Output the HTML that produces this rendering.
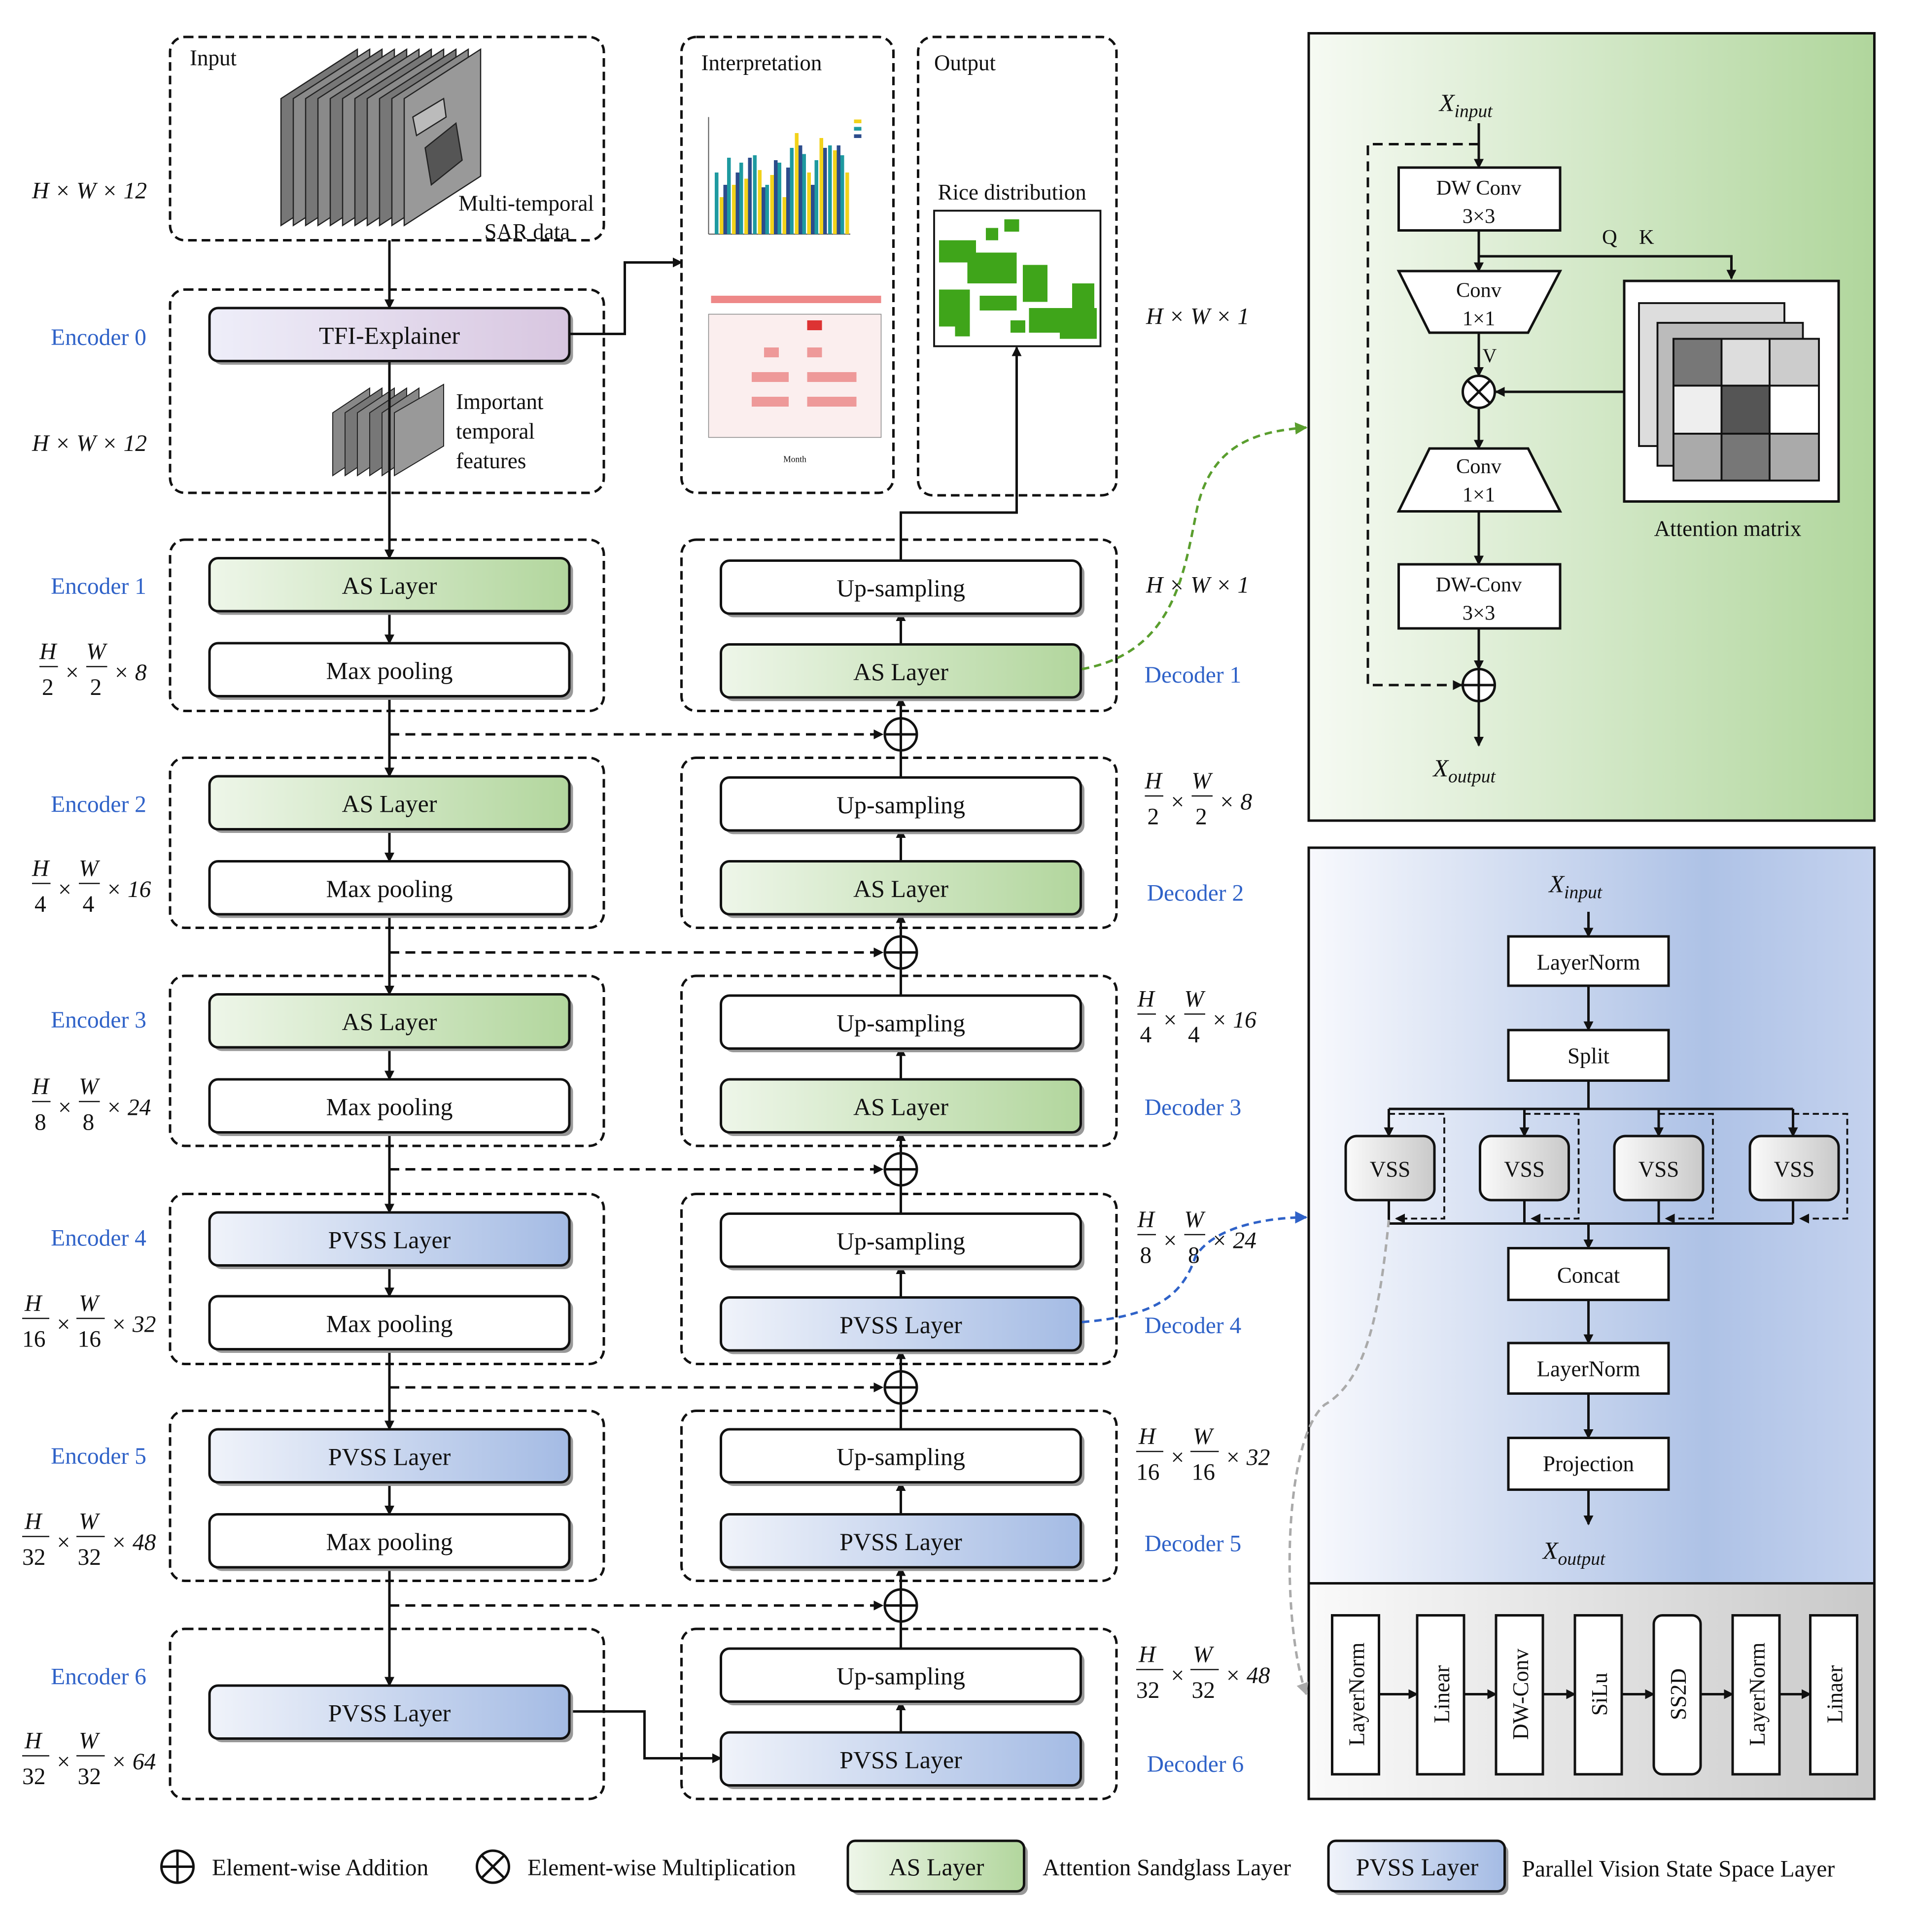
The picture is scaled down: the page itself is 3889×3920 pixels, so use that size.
<!DOCTYPE html>
<html><head><meta charset="utf-8"><style>
html,body{margin:0;padding:0;background:#fff}
svg{display:block}
text{font-family:"Liberation Serif",serif;fill:#111}
.b{fill:#2f62c8}
.it{font-style:italic}
</style></head><body>
<svg width="3889" height="3920" viewBox="0 0 1555.6 1568" xmlns="http://www.w3.org/2000/svg">
<defs>
<marker id="a" markerWidth="8" markerHeight="8" refX="7" refY="4" orient="auto" markerUnits="userSpaceOnUse"><path d="M0,0L8,4L0,8z" fill="#111"/></marker>
<marker id="ag" markerWidth="10" markerHeight="10" refX="9" refY="5" orient="auto" markerUnits="userSpaceOnUse"><path d="M0,0L10,5L0,10z" fill="#5a9e2e"/></marker>
<marker id="ab" markerWidth="10" markerHeight="10" refX="9" refY="5" orient="auto" markerUnits="userSpaceOnUse"><path d="M0,0L10,5L0,10z" fill="#2f62c8"/></marker>
<marker id="ay" markerWidth="10" markerHeight="10" refX="9" refY="5" orient="auto" markerUnits="userSpaceOnUse"><path d="M0,0L10,5L0,10z" fill="#aaa"/></marker>
<linearGradient id="gAS" x1="0" x2="1"><stop offset="0" stop-color="#eef6e9"/><stop offset="1" stop-color="#b2d69d"/></linearGradient>
<linearGradient id="gPV" x1="0" x2="1"><stop offset="0" stop-color="#f0f3fa"/><stop offset="1" stop-color="#a4bbe4"/></linearGradient>
<linearGradient id="gTF" x1="0" x2="1"><stop offset="0" stop-color="#eeeef9"/><stop offset="1" stop-color="#d8c6e0"/></linearGradient>
<linearGradient id="gG" x1="0" x2="1"><stop offset="0" stop-color="#f6faf3"/><stop offset="1" stop-color="#b0d69c"/></linearGradient>
<linearGradient id="gB" x1="0" x2="1"><stop offset="0" stop-color="#f8f9fd"/><stop offset="0.7" stop-color="#aec2e6"/><stop offset="1" stop-color="#c4d2ee"/></linearGradient>
<linearGradient id="gY" x1="0" x2="1"><stop offset="0" stop-color="#fafafa"/><stop offset="1" stop-color="#c9c9c9"/></linearGradient>
</defs>

<!-- dashed group boxes -->
<g fill="none" stroke="#111" stroke-width="2" stroke-dasharray="7,4">
<rect x="138" y="30" width="352" height="165" rx="12"/>
<rect x="138" y="235" width="352" height="165" rx="12"/>
<rect x="553" y="30" width="172" height="370" rx="12"/>
<rect x="745" y="30" width="161" height="372" rx="12"/>
<rect x="138" y="438" width="352" height="139" rx="12"/>
<rect x="138" y="615" width="352" height="138" rx="12"/>
<rect x="138" y="792" width="352" height="138" rx="12"/>
<rect x="138" y="969" width="352" height="138" rx="12"/>
<rect x="138" y="1145" width="352" height="138" rx="12"/>
<rect x="138" y="1322" width="352" height="138" rx="12"/>
<rect x="553" y="438" width="353" height="139" rx="12"/>
<rect x="553" y="615" width="353" height="138" rx="12"/>
<rect x="553" y="792" width="353" height="138" rx="12"/>
<rect x="553" y="969" width="353" height="138" rx="12"/>
<rect x="553" y="1145" width="353" height="138" rx="12"/>
<rect x="553" y="1322" width="353" height="138" rx="12"/>
</g>
<text x="154" y="53" font-size="18">Input</text>
<text x="569" y="57" font-size="18">Interpretation</text>
<text x="758" y="57" font-size="18">Output</text>

<!-- input stack -->
<g stroke="#222" stroke-width="1">
<polygon points="228,183 228,80 290,40 290,143" fill="#777"/>
<polygon points="238,183 238,80 300,40 300,143" fill="#8a8a8a"/>
<polygon points="248,183 248,80 310,40 310,143" fill="#777"/>
<polygon points="258,183 258,80 320,40 320,143" fill="#8a8a8a"/>
<polygon points="268,183 268,80 330,40 330,143" fill="#777"/>
<polygon points="278,183 278,80 340,40 340,143" fill="#8a8a8a"/>
<polygon points="288,183 288,80 350,40 350,143" fill="#777"/>
<polygon points="298,183 298,80 360,40 360,143" fill="#8a8a8a"/>
<polygon points="308,183 308,80 370,40 370,143" fill="#777"/>
<polygon points="318,183 318,80 380,40 380,143" fill="#8a8a8a"/>
<polygon points="328,183 328,80 390,40 390,143" fill="#999"/>
<polygon points="345,120 370,100 375,130 350,150" fill="#555"/>
<polygon points="335,95 360,80 362,95 338,110" fill="#bbb"/>
</g>
<text x="372" y="171" font-size="18">Multi-temporal</text>
<text x="393" y="194" font-size="18">SAR data</text>
<text x="26" y="161" font-size="19" class="it">H × W × 12</text>

<!-- encoder 0 -->
<rect x="173" y="253" width="292" height="43" rx="7" fill="#999"/>
<rect x="170" y="250" width="292" height="43" rx="7" fill="url(#gTF)" stroke="#111" stroke-width="2"/>
<text x="316" y="279" font-size="20" text-anchor="middle">TFI-Explainer</text>
<g stroke="#222" stroke-width="0.8">
<polygon points="270,386 270,335 300,315 300,366" fill="#888"/>
<polygon points="280,386 280,335 310,315 310,366" fill="#777"/>
<polygon points="290,386 290,335 320,315 320,366" fill="#888"/>
<polygon points="300,386 300,335 330,315 330,366" fill="#777"/>
<polygon points="310,386 310,335 340,315 340,366" fill="#888"/>
<polygon points="320,386 320,335 360,312 360,362" fill="#999"/>
</g>
<text x="370" y="332" font-size="18">Important</text>
<text x="370" y="356" font-size="18">temporal</text>
<text x="370" y="380" font-size="18">features</text>
<text x="80" y="280" font-size="19" class="b" text-anchor="middle">Encoder 0</text>
<text x="26" y="366" font-size="19" class="it">H × W × 12</text>

<!-- interpretation charts -->
<g>
<line x1="575" y1="95" x2="575" y2="190" stroke="#555" stroke-width="0.8"/>
<line x1="575" y1="190" x2="690" y2="190" stroke="#555" stroke-width="0.8"/>
<g fill="#1e9aa0">
<rect x="580" y="140" width="3" height="50"/><rect x="590" y="128" width="3" height="62"/><rect x="600" y="132" width="3" height="58"/><rect x="611" y="126" width="3" height="64"/><rect x="621" y="150" width="3" height="40"/><rect x="631" y="132" width="3" height="58"/><rect x="641" y="120" width="3" height="70"/><rect x="651" y="125" width="3" height="65"/><rect x="661" y="130" width="3" height="60"/><rect x="672" y="118" width="3" height="72"/><rect x="682" y="126" width="3" height="64"/>
</g>
<g fill="#f2d21a">
<rect x="584" y="160" width="3" height="30"/><rect x="594" y="150" width="3" height="40"/><rect x="604" y="145" width="3" height="45"/><rect x="615" y="138" width="3" height="52"/><rect x="625" y="142" width="3" height="48"/><rect x="635" y="160" width="3" height="30"/><rect x="645" y="108" width="3" height="82"/><rect x="655" y="140" width="3" height="50"/><rect x="665" y="112" width="3" height="78"/><rect x="676" y="122" width="3" height="68"/><rect x="686" y="140" width="3" height="50"/>
</g>
<g fill="#2c4c8c">
<rect x="587" y="150" width="3" height="40"/><rect x="597" y="140" width="3" height="50"/><rect x="607" y="128" width="3" height="62"/><rect x="618" y="152" width="3" height="38"/><rect x="628" y="130" width="3" height="60"/><rect x="638" y="136" width="3" height="54"/><rect x="648" y="118" width="3" height="72"/><rect x="658" y="150" width="3" height="40"/><rect x="668" y="120" width="3" height="70"/><rect x="679" y="118" width="3" height="72"/>
</g>
<rect x="693" y="97" width="6" height="3" fill="#f2d21a"/><rect x="693" y="103" width="6" height="3" fill="#1e9aa0"/><rect x="693" y="109" width="6" height="3" fill="#2c4c8c"/>
<rect x="577" y="240" width="138" height="6" fill="#e88"/>
<rect x="575" y="255" width="140" height="100" fill="#fbeeee" stroke="#888" stroke-width="0.6"/>
<g fill="#e99"><rect x="655" y="260" width="12" height="8" fill="#d33"/><rect x="620" y="282" width="12" height="8"/><rect x="655" y="282" width="12" height="8"/><rect x="610" y="302" width="30" height="8"/><rect x="655" y="302" width="40" height="8"/><rect x="610" y="322" width="30" height="8"/><rect x="655" y="322" width="40" height="8"/></g>
<text x="645" y="375" font-size="7" text-anchor="middle">Month</text>
</g>

<!-- output map -->
<text x="761" y="162" font-size="18">Rice distribution</text>
<rect x="758" y="171" width="135" height="110" fill="#fff" stroke="#111" stroke-width="1.5"/>
<g fill="#3fa51a">
<rect x="762" y="195" width="30" height="18"/><rect x="785" y="205" width="40" height="25"/><rect x="815" y="178" width="12" height="10"/><rect x="762" y="235" width="25" height="30"/><rect x="795" y="240" width="30" height="12"/><rect x="830" y="215" width="20" height="30"/><rect x="835" y="250" width="25" height="20"/><rect x="860" y="250" width="30" height="25"/><rect x="870" y="230" width="18" height="20"/><rect x="800" y="185" width="10" height="10"/><rect x="775" y="255" width="12" height="18"/><rect x="820" y="260" width="12" height="10"/>
</g>

<!-- connectors -->
<g stroke="#111" stroke-width="2" fill="none">
<line x1="316" y1="195" x2="316" y2="250" marker-end="url(#a)"/>
<line x1="316" y1="293" x2="316" y2="453" marker-end="url(#a)"/>
<line x1="316" y1="495" x2="316" y2="522" marker-end="url(#a)"/>
<line x1="316" y1="565" x2="316" y2="630" marker-end="url(#a)"/>
<line x1="316" y1="672" x2="316" y2="699" marker-end="url(#a)"/>
<line x1="316" y1="741" x2="316" y2="807" marker-end="url(#a)"/>
<line x1="316" y1="849" x2="316" y2="876" marker-end="url(#a)"/>
<line x1="316" y1="918" x2="316" y2="984" marker-end="url(#a)"/>
<line x1="316" y1="1026" x2="316" y2="1052" marker-end="url(#a)"/>
<line x1="316" y1="1095" x2="316" y2="1160" marker-end="url(#a)"/>
<line x1="316" y1="1203" x2="316" y2="1229" marker-end="url(#a)"/>
<line x1="316" y1="1272" x2="316" y2="1368" marker-end="url(#a)"/>
<polyline points="462,271 507,271 507,213 553,213" marker-end="url(#a)"/>
<polyline points="731,455 731,416 825,416 825,282" marker-end="url(#a)"/>
<polyline points="462,1389 523,1389 523,1427 585,1427" marker-end="url(#a)"/>
<!-- decoder internal -->
<line x1="731" y1="523" x2="731" y2="497" marker-end="url(#a)"/>
<line x1="731" y1="699" x2="731" y2="673" marker-end="url(#a)"/>
<line x1="731" y1="876" x2="731" y2="850" marker-end="url(#a)"/>
<line x1="731" y1="1052" x2="731" y2="1027" marker-end="url(#a)"/>
<line x1="731" y1="1229" x2="731" y2="1203" marker-end="url(#a)"/>
<line x1="731" y1="1406" x2="731" y2="1381" marker-end="url(#a)"/>
<!-- decoder up lines through plus -->
<line x1="731" y1="630" x2="731" y2="609"/><line x1="731" y1="583" x2="731" y2="566" marker-end="url(#a)"/>
<line x1="731" y1="807" x2="731" y2="786"/><line x1="731" y1="760" x2="731" y2="742" marker-end="url(#a)"/>
<line x1="731" y1="984" x2="731" y2="962"/><line x1="731" y1="936" x2="731" y2="919" marker-end="url(#a)"/>
<line x1="731" y1="1160" x2="731" y2="1139"/><line x1="731" y1="1113" x2="731" y2="1096" marker-end="url(#a)"/>
<line x1="731" y1="1338" x2="731" y2="1316"/><line x1="731" y1="1290" x2="731" y2="1272" marker-end="url(#a)"/>
</g>
<g stroke="#111" stroke-width="2" fill="none" stroke-dasharray="8,5">
<line x1="316" y1="596" x2="716" y2="596" marker-end="url(#a)"/>
<line x1="316" y1="773" x2="716" y2="773" marker-end="url(#a)"/>
<line x1="316" y1="949" x2="716" y2="949" marker-end="url(#a)"/>
<line x1="316" y1="1126" x2="716" y2="1126" marker-end="url(#a)"/>
<line x1="316" y1="1303" x2="716" y2="1303" marker-end="url(#a)"/>
</g>
<g stroke="#111" stroke-width="2" fill="#fff">
<circle cx="731" cy="596" r="13"/><circle cx="731" cy="773" r="13"/><circle cx="731" cy="949" r="13"/><circle cx="731" cy="1126" r="13"/><circle cx="731" cy="1303" r="13"/>
<path d="M718,596h26M731,583v26M718,773h26M731,760v26M718,949h26M731,936v26M718,1126h26M731,1113v26M718,1303h26M731,1290v26" fill="none"/>
</g>

<!-- encoder boxes -->
<g stroke="#111" stroke-width="2">
<g fill="#999" stroke="none">
<rect x="173" y="456" width="292" height="43" rx="7"/><rect x="173" y="525" width="292" height="43" rx="7"/>
<rect x="173" y="633" width="292" height="43" rx="7"/><rect x="173" y="702" width="292" height="43" rx="7"/>
<rect x="173" y="810" width="292" height="43" rx="7"/><rect x="173" y="879" width="292" height="43" rx="7"/>
<rect x="173" y="987" width="292" height="43" rx="7"/><rect x="173" y="1055" width="292" height="43" rx="7"/>
<rect x="173" y="1163" width="292" height="43" rx="7"/><rect x="173" y="1232" width="292" height="43" rx="7"/>
<rect x="173" y="1371" width="292" height="43" rx="7"/>
<rect x="588" y="458" width="292" height="43" rx="7"/><rect x="588" y="526" width="292" height="43" rx="7"/>
<rect x="588" y="634" width="292" height="43" rx="7"/><rect x="588" y="702" width="292" height="43" rx="7"/>
<rect x="588" y="811" width="292" height="43" rx="7"/><rect x="588" y="879" width="292" height="43" rx="7"/>
<rect x="588" y="988" width="292" height="43" rx="7"/><rect x="588" y="1056" width="292" height="43" rx="7"/>
<rect x="588" y="1163" width="292" height="43" rx="7"/><rect x="588" y="1232" width="292" height="43" rx="7"/>
<rect x="588" y="1341" width="292" height="43" rx="7"/><rect x="588" y="1409" width="292" height="43" rx="7"/>
</g>
<rect x="170" y="453" width="292" height="43" rx="7" fill="url(#gAS)"/><rect x="170" y="522" width="292" height="43" rx="7" fill="#fff"/>
<rect x="170" y="630" width="292" height="43" rx="7" fill="url(#gAS)"/><rect x="170" y="699" width="292" height="43" rx="7" fill="#fff"/>
<rect x="170" y="807" width="292" height="43" rx="7" fill="url(#gAS)"/><rect x="170" y="876" width="292" height="43" rx="7" fill="#fff"/>
<rect x="170" y="984" width="292" height="43" rx="7" fill="url(#gPV)"/><rect x="170" y="1052" width="292" height="43" rx="7" fill="#fff"/>
<rect x="170" y="1160" width="292" height="43" rx="7" fill="url(#gPV)"/><rect x="170" y="1229" width="292" height="43" rx="7" fill="#fff"/>
<rect x="170" y="1368" width="292" height="43" rx="7" fill="url(#gPV)"/>
<rect x="585" y="455" width="292" height="43" rx="7" fill="#fff"/><rect x="585" y="523" width="292" height="43" rx="7" fill="url(#gAS)"/>
<rect x="585" y="631" width="292" height="43" rx="7" fill="#fff"/><rect x="585" y="699" width="292" height="43" rx="7" fill="url(#gAS)"/>
<rect x="585" y="808" width="292" height="43" rx="7" fill="#fff"/><rect x="585" y="876" width="292" height="43" rx="7" fill="url(#gAS)"/>
<rect x="585" y="985" width="292" height="43" rx="7" fill="#fff"/><rect x="585" y="1053" width="292" height="43" rx="7" fill="url(#gPV)"/>
<rect x="585" y="1160" width="292" height="43" rx="7" fill="#fff"/><rect x="585" y="1229" width="292" height="43" rx="7" fill="url(#gPV)"/>
<rect x="585" y="1338" width="292" height="43" rx="7" fill="#fff"/><rect x="585" y="1406" width="292" height="43" rx="7" fill="url(#gPV)"/>
</g>
<g font-size="20" text-anchor="middle">
<text x="316" y="482">AS Layer</text><text x="316" y="551">Max pooling</text>
<text x="316" y="659">AS Layer</text><text x="316" y="728">Max pooling</text>
<text x="316" y="836">AS Layer</text><text x="316" y="905">Max pooling</text>
<text x="316" y="1013">PVSS Layer</text><text x="316" y="1081">Max pooling</text>
<text x="316" y="1189">PVSS Layer</text><text x="316" y="1258">Max pooling</text>
<text x="316" y="1397">PVSS Layer</text>
<text x="731" y="484">Up-sampling</text><text x="731" y="552">AS Layer</text>
<text x="731" y="660">Up-sampling</text><text x="731" y="728">AS Layer</text>
<text x="731" y="837">Up-sampling</text><text x="731" y="905">AS Layer</text>
<text x="731" y="1014">Up-sampling</text><text x="731" y="1082">PVSS Layer</text>
<text x="731" y="1189">Up-sampling</text><text x="731" y="1258">PVSS Layer</text>
<text x="731" y="1367">Up-sampling</text><text x="731" y="1435">PVSS Layer</text>
</g>

<!-- side labels -->
<g font-size="19" class="b" text-anchor="middle">
<text x="80" y="482" class="b">Encoder 1</text><text x="80" y="659" class="b">Encoder 2</text><text x="80" y="834" class="b">Encoder 3</text>
<text x="80" y="1011" class="b">Encoder 4</text><text x="80" y="1188" class="b">Encoder 5</text><text x="80" y="1367" class="b">Encoder 6</text>
<text x="968" y="554" class="b">Decoder 1</text><text x="970" y="731" class="b">Decoder 2</text><text x="968" y="905" class="b">Decoder 3</text>
<text x="968" y="1082" class="b">Decoder 4</text><text x="968" y="1259" class="b">Decoder 5</text><text x="970" y="1438" class="b">Decoder 6</text>
</g>
<text x="930" y="263" font-size="19" class="it">H × W × 1</text>
<text x="930" y="481" font-size="19" class="it">H × W × 1</text>

<!-- fraction labels -->
<g font-size="19" class="it" stroke="none">
<!-- enc1 -->
<g transform="translate(32,520)"><text x="0" y="15">H</text><line x1="0" y1="21" x2="15" y2="21" stroke="#111"/><text x="2" y="44" font-style="normal">2</text><text x="20" y="32">×</text><text x="38" y="15">W</text><line x1="38" y1="21" x2="55" y2="21" stroke="#111"/><text x="41" y="44" font-style="normal">2</text><text x="60" y="32">× 8</text></g>
<g transform="translate(26,696)"><text x="0" y="15">H</text><line x1="0" y1="21" x2="15" y2="21" stroke="#111"/><text x="2" y="44" font-style="normal">4</text><text x="20" y="32">×</text><text x="38" y="15">W</text><line x1="38" y1="21" x2="55" y2="21" stroke="#111"/><text x="41" y="44" font-style="normal">4</text><text x="60" y="32">× 16</text></g>
<g transform="translate(26,873)"><text x="0" y="15">H</text><line x1="0" y1="21" x2="15" y2="21" stroke="#111"/><text x="2" y="44" font-style="normal">8</text><text x="20" y="32">×</text><text x="38" y="15">W</text><line x1="38" y1="21" x2="55" y2="21" stroke="#111"/><text x="41" y="44" font-style="normal">8</text><text x="60" y="32">× 24</text></g>
<g transform="translate(18,1049)"><text x="2" y="15">H</text><line x1="0" y1="21" x2="22" y2="21" stroke="#111"/><text x="0" y="44" font-style="normal">16</text><text x="27" y="32">×</text><text x="46" y="15">W</text><line x1="44" y1="21" x2="67" y2="21" stroke="#111"/><text x="45" y="44" font-style="normal">16</text><text x="72" y="32">× 32</text></g>
<g transform="translate(18,1226)"><text x="2" y="15">H</text><line x1="0" y1="21" x2="22" y2="21" stroke="#111"/><text x="0" y="44" font-style="normal">32</text><text x="27" y="32">×</text><text x="46" y="15">W</text><line x1="44" y1="21" x2="67" y2="21" stroke="#111"/><text x="45" y="44" font-style="normal">32</text><text x="72" y="32">× 48</text></g>
<g transform="translate(18,1404)"><text x="2" y="15">H</text><line x1="0" y1="21" x2="22" y2="21" stroke="#111"/><text x="0" y="44" font-style="normal">32</text><text x="27" y="32">×</text><text x="46" y="15">W</text><line x1="44" y1="21" x2="67" y2="21" stroke="#111"/><text x="45" y="44" font-style="normal">32</text><text x="72" y="32">× 64</text></g>
<!-- decoder side -->
<g transform="translate(929,625)"><text x="0" y="15">H</text><line x1="0" y1="21" x2="15" y2="21" stroke="#111"/><text x="2" y="44" font-style="normal">2</text><text x="20" y="32">×</text><text x="38" y="15">W</text><line x1="38" y1="21" x2="55" y2="21" stroke="#111"/><text x="41" y="44" font-style="normal">2</text><text x="60" y="32">× 8</text></g>
<g transform="translate(923,802)"><text x="0" y="15">H</text><line x1="0" y1="21" x2="15" y2="21" stroke="#111"/><text x="2" y="44" font-style="normal">4</text><text x="20" y="32">×</text><text x="38" y="15">W</text><line x1="38" y1="21" x2="55" y2="21" stroke="#111"/><text x="41" y="44" font-style="normal">4</text><text x="60" y="32">× 16</text></g>
<g transform="translate(923,981)"><text x="0" y="15">H</text><line x1="0" y1="21" x2="15" y2="21" stroke="#111"/><text x="2" y="44" font-style="normal">8</text><text x="20" y="32">×</text><text x="38" y="15">W</text><line x1="38" y1="21" x2="55" y2="21" stroke="#111"/><text x="41" y="44" font-style="normal">8</text><text x="60" y="32">× 24</text></g>
<g transform="translate(922,1157)"><text x="2" y="15">H</text><line x1="0" y1="21" x2="22" y2="21" stroke="#111"/><text x="0" y="44" font-style="normal">16</text><text x="27" y="32">×</text><text x="46" y="15">W</text><line x1="44" y1="21" x2="67" y2="21" stroke="#111"/><text x="45" y="44" font-style="normal">16</text><text x="72" y="32">× 32</text></g>
<g transform="translate(922,1334)"><text x="2" y="15">H</text><line x1="0" y1="21" x2="22" y2="21" stroke="#111"/><text x="0" y="44" font-style="normal">32</text><text x="27" y="32">×</text><text x="46" y="15">W</text><line x1="44" y1="21" x2="67" y2="21" stroke="#111"/><text x="45" y="44" font-style="normal">32</text><text x="72" y="32">× 48</text></g>
</g>

<!-- green panel -->
<rect x="1062" y="27" width="459" height="639" fill="url(#gG)" stroke="#111" stroke-width="2"/>
<text x="1168" y="90" font-size="20" class="it">X<tspan font-size="15" dy="5">input</tspan></text>
<g stroke="#111" stroke-width="2" fill="none">
<line x1="1200" y1="100" x2="1200" y2="136" marker-end="url(#a)"/>
<line x1="1200" y1="187" x2="1200" y2="220" marker-end="url(#a)"/>
<line x1="1200" y1="270" x2="1200" y2="305" marker-end="url(#a)"/>
<line x1="1200" y1="331" x2="1200" y2="364" marker-end="url(#a)"/>
<line x1="1200" y1="415" x2="1200" y2="458" marker-end="url(#a)"/>
<line x1="1200" y1="510" x2="1200" y2="543" marker-end="url(#a)"/>
<line x1="1200" y1="569" x2="1200" y2="605" marker-end="url(#a)"/>
<polyline points="1200,208 1405,208 1405,226" marker-end="url(#a)"/>
<line x1="1318" y1="318" x2="1214" y2="318" marker-end="url(#a)"/>
<polyline points="1200,117 1110,117 1110,556 1186,556" stroke-dasharray="8,5" marker-end="url(#a)"/>
</g>
<rect x="1135" y="136" width="131" height="51" fill="#fff" stroke="#111" stroke-width="2"/>
<text x="1200" y="158" font-size="17" text-anchor="middle">DW Conv</text><text x="1200" y="181" font-size="17" text-anchor="middle">3×3</text>
<polygon points="1135,220 1266,220 1240,270 1160,270" fill="#fff" stroke="#111" stroke-width="2"/>
<text x="1200" y="241" font-size="17" text-anchor="middle">Conv</text><text x="1200" y="264" font-size="17" text-anchor="middle">1×1</text>
<text x="1203" y="294" font-size="16">V</text>
<text x="1300" y="198" font-size="17">Q</text><text x="1330" y="198" font-size="17">K</text>
<circle cx="1200" cy="318" r="13" fill="#fff" stroke="#111" stroke-width="2"/>
<path d="M1191,309l18,18M1209,309l-18,18" stroke="#111" stroke-width="2"/>
<polygon points="1160,364 1240,364 1266,415 1135,415" fill="#fff" stroke="#111" stroke-width="2"/>
<text x="1200" y="384" font-size="17" text-anchor="middle">Conv</text><text x="1200" y="407" font-size="17" text-anchor="middle">1×1</text>
<rect x="1135" y="458" width="131" height="52" fill="#fff" stroke="#111" stroke-width="2"/>
<text x="1200" y="480" font-size="17" text-anchor="middle">DW-Conv</text><text x="1200" y="503" font-size="17" text-anchor="middle">3×3</text>
<circle cx="1200" cy="556" r="13" fill="#fff" stroke="#111" stroke-width="2"/>
<path d="M1187,556h26M1200,543v26" stroke="#111" stroke-width="2"/>
<text x="1163" y="630" font-size="20" class="it">X<tspan font-size="15" dy="5">output</tspan></text>
<rect x="1318" y="228" width="174" height="179" fill="#fff" stroke="#111" stroke-width="2"/>
<g stroke="#111" stroke-width="1.5">
<rect x="1330" y="246" width="118" height="116" fill="#ddd"/>
<rect x="1345" y="262" width="118" height="116" fill="#bbb"/>
<rect x="1358" y="275" width="118" height="115" fill="#fff"/>
<rect x="1358" y="275" width="39" height="38" fill="#777"/><rect x="1397" y="275" width="39" height="38" fill="#ddd"/><rect x="1436" y="275" width="40" height="38" fill="#ccc"/>
<rect x="1358" y="313" width="39" height="39" fill="#eee"/><rect x="1397" y="313" width="39" height="39" fill="#555"/><rect x="1436" y="313" width="40" height="39" fill="#fff"/>
<rect x="1358" y="352" width="39" height="38" fill="#aaa"/><rect x="1397" y="352" width="39" height="38" fill="#777"/><rect x="1436" y="352" width="40" height="38" fill="#aaa"/>
</g>
<text x="1402" y="435" font-size="18" text-anchor="middle">Attention matrix</text>

<!-- blue panel -->
<rect x="1062" y="688" width="459" height="597" fill="url(#gB)" stroke="#111" stroke-width="2"/>
<rect x="1062" y="1285" width="459" height="175" fill="url(#gY)" stroke="#111" stroke-width="2"/>
<text x="1257" y="724" font-size="20" class="it">X<tspan font-size="15" dy="5">input</tspan></text>
<g stroke="#111" stroke-width="2" fill="none">
<line x1="1289" y1="740" x2="1289" y2="760" marker-end="url(#a)"/>
<line x1="1289" y1="800" x2="1289" y2="836" marker-end="url(#a)"/>
<line x1="1289" y1="877" x2="1289" y2="900"/>
<line x1="1127" y1="900" x2="1455" y2="900"/>
<line x1="1127" y1="900" x2="1127" y2="922" marker-end="url(#a)"/>
<line x1="1237" y1="900" x2="1237" y2="922" marker-end="url(#a)"/>
<line x1="1346" y1="900" x2="1346" y2="922" marker-end="url(#a)"/>
<line x1="1455" y1="900" x2="1455" y2="922" marker-end="url(#a)"/>
<line x1="1127" y1="974" x2="1127" y2="993"/><line x1="1237" y1="974" x2="1237" y2="993"/><line x1="1346" y1="974" x2="1346" y2="993"/><line x1="1455" y1="974" x2="1455" y2="993"/>
<line x1="1127" y1="993" x2="1455" y2="993"/>
<line x1="1289" y1="993" x2="1289" y2="1013" marker-end="url(#a)"/>
<line x1="1289" y1="1055" x2="1289" y2="1090" marker-end="url(#a)"/>
<line x1="1289" y1="1131" x2="1289" y2="1167" marker-end="url(#a)"/>
<line x1="1289" y1="1209" x2="1289" y2="1237" marker-end="url(#a)"/>
<g stroke-dasharray="5,3" stroke-width="1.5">
<polyline points="1127,904 1172,904 1172,989 1133,989" marker-end="url(#a)"/>
<polyline points="1237,904 1281,904 1281,989 1243,989" marker-end="url(#a)"/>
<polyline points="1346,904 1390,904 1390,989 1352,989" marker-end="url(#a)"/>
<polyline points="1455,904 1499,904 1499,989 1461,989" marker-end="url(#a)"/>
</g>
</g>
<g stroke="#111" stroke-width="2">
<rect x="1224" y="760" width="130" height="40" fill="#fff"/>
<rect x="1224" y="836" width="130" height="41" fill="#fff"/>
<rect x="1224" y="1013" width="130" height="42" fill="#fff"/>
<rect x="1224" y="1090" width="130" height="41" fill="#fff"/>
<rect x="1224" y="1167" width="130" height="42" fill="#fff"/>
<rect x="1092" y="922" width="72" height="52" rx="9" fill="url(#gY)"/>
<rect x="1201" y="922" width="72" height="52" rx="9" fill="url(#gY)"/>
<rect x="1310" y="922" width="72" height="52" rx="9" fill="url(#gY)"/>
<rect x="1420" y="922" width="72" height="52" rx="9" fill="url(#gY)"/>
</g>
<g font-size="18" text-anchor="middle">
<text x="1289" y="787">LayerNorm</text><text x="1289" y="863">Split</text><text x="1289" y="1041">Concat</text><text x="1289" y="1117">LayerNorm</text><text x="1289" y="1194">Projection</text>
<text x="1128" y="955">VSS</text><text x="1237" y="955">VSS</text><text x="1346" y="955">VSS</text><text x="1456" y="955">VSS</text>
</g>
<text x="1252" y="1265" font-size="20" class="it">X<tspan font-size="15" dy="5">output</tspan></text>

<!-- grey panel boxes -->
<g stroke="#111" stroke-width="2" fill="#fff">
<rect x="1081" y="1311" width="38" height="129"/><rect x="1150" y="1311" width="38" height="129"/><rect x="1214" y="1311" width="38" height="129"/><rect x="1278" y="1311" width="38" height="129"/><rect x="1342" y="1311" width="38" height="129" rx="7"/><rect x="1406" y="1311" width="38" height="129"/><rect x="1469" y="1311" width="38" height="129"/>
</g>
<g stroke="#111" stroke-width="2">
<line x1="1119" y1="1375" x2="1150" y2="1375" marker-end="url(#a)"/><line x1="1188" y1="1375" x2="1214" y2="1375" marker-end="url(#a)"/><line x1="1252" y1="1375" x2="1278" y2="1375" marker-end="url(#a)"/><line x1="1316" y1="1375" x2="1342" y2="1375" marker-end="url(#a)"/><line x1="1380" y1="1375" x2="1406" y2="1375" marker-end="url(#a)"/><line x1="1444" y1="1375" x2="1469" y2="1375" marker-end="url(#a)"/>
</g>
<g font-size="18" text-anchor="middle">
<text transform="translate(1107,1375) rotate(-90)">LayerNorm</text>
<text transform="translate(1176,1375) rotate(-90)">Linear</text>
<text transform="translate(1240,1375) rotate(-90)">DW-Conv</text>
<text transform="translate(1304,1375) rotate(-90)">SiLu</text>
<text transform="translate(1368,1375) rotate(-90)">SS2D</text>
<text transform="translate(1432,1375) rotate(-90)">LayerNorm</text>
<text transform="translate(1495,1375) rotate(-90)">Linaer</text>
</g>

<!-- curved callouts -->
<path d="M878,543 C950,530 960,470 970,420 C980,360 1020,350 1060,347" fill="none" stroke="#5a9e2e" stroke-width="2" stroke-dasharray="6,4" marker-end="url(#ag)"/>
<path d="M878,1073 C940,1068 960,1050 970,1020 C985,995 1030,988 1060,988" fill="none" stroke="#2f62c8" stroke-width="2" stroke-dasharray="6,4" marker-end="url(#ab)"/>
<path d="M1127,990 C1120,1060 1110,1120 1075,1140 C1040,1170 1040,1320 1060,1375" fill="none" stroke="#aaa" stroke-width="2" stroke-dasharray="6,4" marker-end="url(#ay)"/>

<!-- legend -->
<circle cx="144" cy="1515" r="13" fill="#fff" stroke="#111" stroke-width="2"/><path d="M131,1515h26M144,1502v26" stroke="#111" stroke-width="2"/>
<text x="172" y="1522" font-size="19">Element-wise Addition</text>
<circle cx="400" cy="1515" r="13" fill="#fff" stroke="#111" stroke-width="2"/><path d="M391,1506l18,18M409,1506l-18,18" stroke="#111" stroke-width="2"/>
<text x="428" y="1522" font-size="19">Element-wise Multiplication</text>
<rect x="691" y="1497" width="143" height="41" rx="6" fill="#999"/>
<rect x="688" y="1494" width="143" height="41" rx="6" fill="url(#gAS)" stroke="#111" stroke-width="2"/>
<text x="760" y="1522" font-size="20" text-anchor="middle">AS Layer</text>
<text x="846" y="1522" font-size="19">Attention Sandglass Layer</text>
<rect x="1081" y="1497" width="143" height="41" rx="6" fill="#999"/>
<rect x="1078" y="1494" width="143" height="41" rx="6" fill="url(#gPV)" stroke="#111" stroke-width="2"/>
<text x="1150" y="1522" font-size="20" text-anchor="middle">PVSS Layer</text>
<text x="1235" y="1523" font-size="19">Parallel Vision State Space Layer</text>
</svg>
</body></html>
